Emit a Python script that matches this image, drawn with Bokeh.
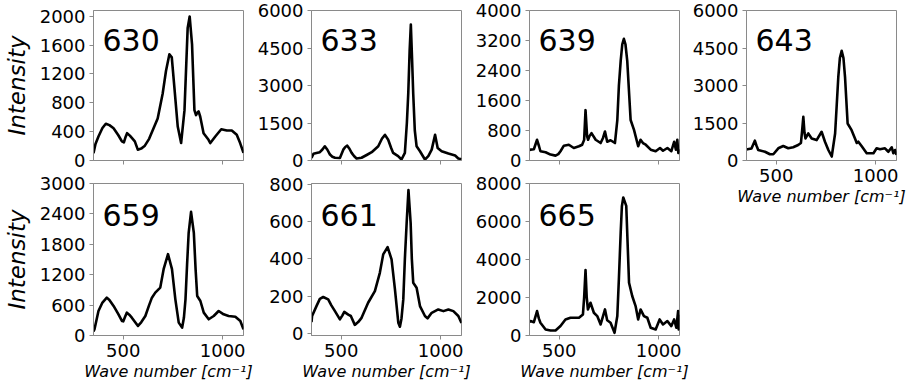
from bokeh.plotting import figure
from bokeh.layouts import row, column
from bokeh.models import FixedTicker, Label, Range1d, CustomLabelingPolicy
from bokeh.embed import file_html
from bokeh.resources import INLINE

# ---------------- data ----------------
x_ticks = [500, 1000]
x_lo, x_hi = 350, 1105

wn_630 = [350, 360, 375, 395, 412, 430, 451, 475, 493, 503, 512, 519, 533, 544, 558, 573, 590, 607, 630, 656, 673, 698, 715, 732, 744, 757, 774, 791, 808, 824, 834, 846, 858, 866, 872, 879, 887, 904, 929, 938, 963, 993, 1021, 1046, 1071, 1088, 1105]
int_630 = [100, 230, 333, 450, 510, 490, 447, 350, 265, 250, 330, 379, 345, 310, 265, 150, 165, 200, 300, 470, 584, 926, 1245, 1473, 1430, 1018, 470, 242, 698, 1839, 1997, 1610, 698, 630, 660, 680, 610, 379, 287, 242, 333, 434, 415, 415, 356, 242, 105]

wn_633 = [350, 360, 375, 392, 405, 417, 430, 443, 455, 468, 493, 510, 520, 530, 541, 552, 565, 577, 602, 630, 653, 686, 705, 720, 736, 750, 761, 786, 803, 820, 830, 837, 844, 850, 856, 862, 870, 879, 896, 921, 938, 955, 972, 985, 1005, 1039, 1073, 1089, 1105]
int_633 = [100, 270, 300, 332, 440, 568, 430, 237, 150, 107, 100, 434, 540, 592, 470, 304, 170, 79, 110, 230, 332, 568, 880, 1026, 829, 520, 304, 174, 40, 304, 1500, 2673, 4400, 5436, 4100, 2673, 1200, 568, 371, 40, 174, 434, 1026, 500, 371, 276, 197, 80, 50]

wn_639 = [350, 355, 372, 388, 398, 405, 431, 456, 481, 495, 506, 523, 548, 573, 599, 615, 625, 632, 640, 645, 652, 662, 683, 708, 720, 730, 741, 758, 780, 792, 800, 809, 817, 825, 833, 842, 859, 876, 897, 909, 921, 935, 960, 985, 1007, 1022, 1044, 1064, 1078, 1087, 1094, 1099, 1105]
int_639 = [280, 289, 300, 553, 380, 247, 221, 158, 130, 170, 247, 395, 421, 334, 379, 421, 550, 1342, 642, 553, 650, 729, 553, 466, 600, 774, 500, 540, 466, 1079, 2000, 2658, 3100, 3247, 3100, 2658, 1079, 816, 379, 553, 466, 421, 289, 247, 334, 260, 334, 247, 500, 290, 553, 200, 300]

wn_643 = [350, 355, 375, 392, 400, 409, 443, 468, 485, 510, 535, 560, 585, 610, 624, 630, 636, 642, 647, 661, 678, 703, 728, 745, 762, 779, 796, 804, 812, 820, 829, 838, 846, 859, 879, 895, 905, 913, 930, 955, 989, 1005, 1022, 1047, 1064, 1081, 1089, 1098, 1105]
int_643 = [440, 448, 480, 793, 600, 420, 350, 250, 250, 488, 579, 488, 530, 619, 700, 1200, 1745, 1100, 884, 1082, 884, 817, 1150, 750, 420, 159, 1082, 2200, 3331, 4100, 4385, 4100, 3331, 1479, 1213, 900, 700, 750, 570, 290, 290, 488, 450, 488, 350, 530, 290, 420, 220]

wn_659 = [350, 355, 375, 395, 417, 430, 451, 475, 493, 500, 510, 518, 530, 543, 574, 590, 611, 630, 644, 661, 686, 703, 725, 745, 762, 779, 796, 805, 813, 821, 829, 841, 855, 864, 872, 888, 905, 930, 955, 980, 1005, 1030, 1064, 1089, 1105]
int_659 = [80, 122, 484, 650, 747, 700, 583, 420, 287, 280, 380, 451, 410, 352, 188, 260, 385, 600, 747, 846, 945, 1309, 1605, 1309, 714, 254, 155, 350, 714, 1400, 2027, 2441, 2027, 1300, 780, 681, 451, 320, 385, 484, 418, 385, 370, 287, 122]

wn_661 = [350, 353, 375, 392, 409, 434, 450, 468, 493, 505, 515, 535, 548, 568, 585, 602, 635, 669, 694, 711, 733, 753, 770, 787, 795, 803, 812, 820, 829, 838, 849, 855, 862, 879, 896, 921, 934, 955, 988, 1014, 1039, 1064, 1089, 1105]
int_661 = [60, 93, 146, 185, 195, 182, 150, 119, 75, 95, 115, 100, 93, 45, 60, 83, 164, 227, 325, 424, 463, 397, 236, 56, 35, 80, 182, 400, 594, 770, 594, 400, 272, 245, 146, 93, 80, 110, 128, 119, 128, 119, 93, 55]

wn_665 = [350, 355, 372, 388, 397, 405, 431, 456, 481, 506, 531, 556, 599, 619, 625, 632, 638, 644, 657, 674, 691, 708, 730, 741, 758, 778, 792, 800, 809, 815, 822, 837, 851, 867, 884, 897, 909, 926, 943, 960, 985, 1005, 1022, 1044, 1064, 1078, 1089, 1098, 1101, 1105]
int_665 = [700, 759, 700, 1287, 900, 670, 316, 260, 260, 496, 844, 934, 934, 1108, 2000, 3449, 2000, 1371, 1725, 1197, 1023, 580, 1371, 800, 670, 142, 1023, 3000, 5417, 6800, 7262, 6825, 2780, 2078, 1550, 844, 1371, 1023, 934, 406, 316, 844, 580, 759, 496, 844, 406, 1287, 316, 1100]

y_ranges = {"630": (0, 2080), "633": (0, 6000), "639": (0, 4000), "643": (0, 6000),
            "659": (0, 3000), "661": (-12, 805), "665": (0, 8000)}
y_ticks = {"630": [0, 400, 800, 1200, 1600, 2000],
           "633": [0, 1500, 3000, 4500, 6000],
           "639": [0, 800, 1600, 2400, 3200, 4000],
           "643": [0, 1500, 3000, 4500, 6000],
           "659": [0, 600, 1200, 1800, 2400, 3000],
           "661": [0, 200, 400, 600, 800],
           "665": [0, 2000, 4000, 6000, 8000]}
series = {"630": (wn_630, int_630), "633": (wn_633, int_633), "639": (wn_639, int_639),
          "643": (wn_643, int_643), "659": (wn_659, int_659), "661": (wn_661, int_661),
          "665": (wn_665, int_665)}

y_label = "Intensity"
x_label = "Wave number [cm\u207b\u00b9]"

FONT = "DejaVu Sans"
FRAME_W = 150
EDGE = "#8a8a8a"


def panel(name, left, right, top, bottom, frame_h, title_drop, xlabels, ylabel):
    y0, y1 = y_ranges[name]
    p = figure(frame_width=FRAME_W, frame_height=frame_h,
               x_range=Range1d(x_lo, x_hi), y_range=Range1d(y0, y1),
               output_backend="svg", toolbar_location=None,
               min_border_left=left, min_border_right=right,
               min_border_top=top, min_border_bottom=bottom,
               background_fill_color="white", border_fill_color="white",
               outline_line_color=EDGE, outline_line_width=1)
    p.grid.visible = False
    xs, ys = series[name]
    p.line(xs, ys, line_color="black", line_width=2.6, line_join="round")

    for ax in (p.xaxis[0], p.yaxis[0]):
        ax.axis_line_color = EDGE
        ax.major_tick_line_color = EDGE
        ax.major_tick_in = 0
        ax.major_tick_out = 4
        ax.minor_tick_line_color = None
        ax.major_label_text_font = FONT
        ax.major_label_text_font_size = "18px"
        ax.major_label_text_color = "black"
        ax.major_label_standoff = 4
        ax.axis_label_text_font = FONT
        ax.axis_label_text_font_style = "italic"
        ax.axis_label_text_color = "black"

    p.xaxis.ticker = FixedTicker(ticks=x_ticks)
    p.yaxis.ticker = FixedTicker(ticks=y_ticks[name])

    if xlabels:
        p.xaxis.axis_label = x_label
        p.xaxis.axis_label_text_font_size = "16px"
        p.xaxis.axis_label_standoff = 2
    else:
        # tick marks only, no tick labels (as in the reference)
        p.xaxis.major_label_text_font_size = "1px"
        p.xaxis.major_label_standoff = 0
        p.xaxis.major_label_policy = CustomLabelingPolicy(code="return []")

    if ylabel:
        p.yaxis.axis_label = y_label
        p.yaxis.axis_label_text_font_size = "23px"
        p.yaxis.axis_label_standoff = 7

    tx = x_lo + 9 / FRAME_W * (x_hi - x_lo)
    ty = y1 - title_drop / frame_h * (y1 - y0)
    p.add_layout(Label(x=tx, y=ty, text=name, text_font=FONT,
                       text_font_size="30px", text_color="black",
                       text_baseline="alphabetic", text_align="left"))
    return p


# top row: frames 150 high, bottom row: 152 high
p630 = panel("630", 87, 10, 10, 11, 150, 29, False, True)
p659 = panel("659", 87, 10, 12, 10, 152, 31, True, True)
p633 = panel("633", 58, 10, 10, 11, 150, 29, False, False)
p661 = panel("661", 58, 10, 12, 10, 152, 31, True, False)
p639 = panel("639", 58, 10, 10, 11, 150, 29, False, False)
p665 = panel("665", 58, 10, 12, 10, 152, 31, True, False)
p643 = panel("643", 57, 11, 10, 10, 150, 29, True, False)

layout = row(column(p630, p659), column(p633, p661), column(p639, p665), column(p643))

open("out.html", "w").write(file_html(layout, INLINE))
